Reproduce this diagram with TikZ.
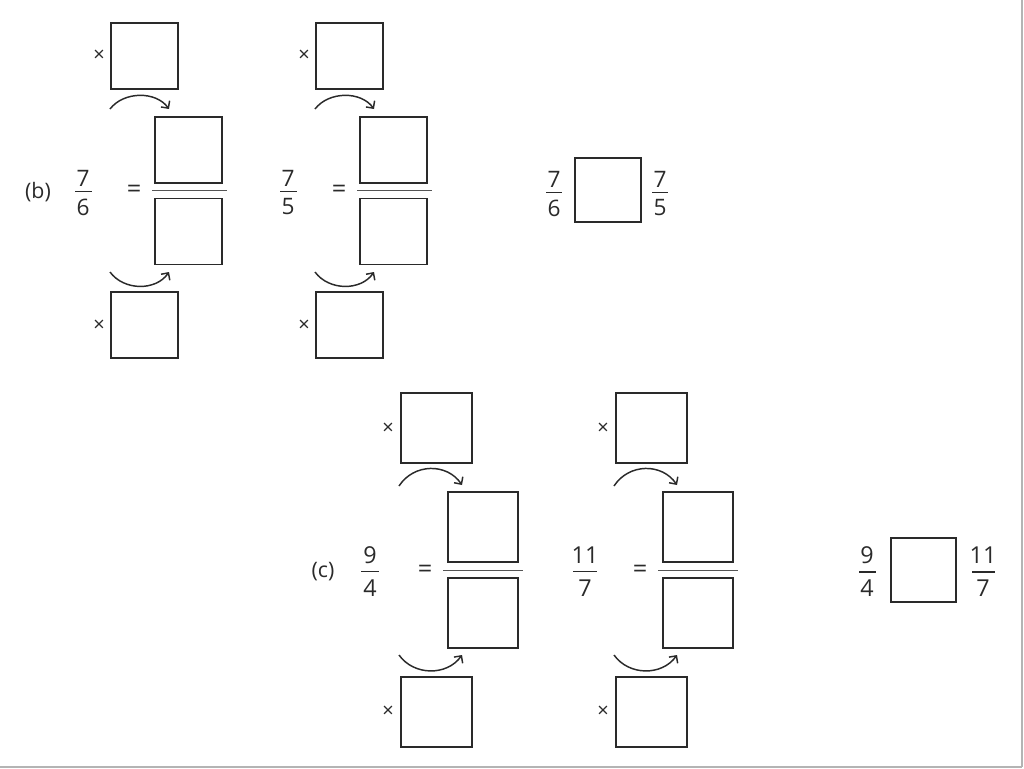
\documentclass[tikz,border=0pt]{standalone}
\usepackage{fontspec}
\setmainfont{Open Sans}
\usetikzlibrary{arrows.meta}
\definecolor{ink}{HTML}{2A2A2A}
\definecolor{edge}{HTML}{B4B4B4}
\begin{document}
\begin{tikzpicture}[x=0.75pt,y=-0.75pt,
  boxb/.style={draw=ink,line width=1.3pt,minimum width=50pt,minimum height=49.5pt,inner sep=0pt},
  boxc/.style={draw=ink,line width=1.3pt,minimum width=53pt,minimum height=52.5pt,inner sep=0pt},
  boxcmp/.style={draw=ink,line width=1.3pt,minimum width=49pt,minimum height=48pt,inner sep=0pt},
  numtxt/.style={inner sep=0pt,text=ink,font=\fontsize{17}{19}\selectfont},
  numtxtc/.style={inner sep=0pt,text=ink,font=\fontsize{17.5}{19}\selectfont},
  lbl/.style={inner sep=0pt,text=ink,font=\fontsize{16}{18}\selectfont},
  eqtxt/.style={inner sep=0pt,text=ink,font=\fontsize{19}{20}\selectfont},
  timestxt/.style={inner sep=0pt,text=ink,font=\fontsize{15}{16}\selectfont},
  fracbar/.style={draw=ink,line width=1pt},
  longbar/.style={draw=ink!80,line width=1.3pt},
  turn/.style={draw=ink,line width=1.1pt,-{Straight Barb[length=4pt,width=8pt]}}]
\useasboundingbox (0,0) rectangle (1024,768);
% scan edges
\draw[edge,line width=1.5pt] (0,766.5) -- (1022,766.5);
\draw[edge,line width=1.2pt] (1022,0) -- (1022,766.5);
% ---- part (b)
\node[lbl] (blabel) at (38,192) {(b)};
\foreach \dx/\p/\n/\d in {0/bA/7/6,205/bB/7/5}{
  \begin{scope}[shift={(\dx,0)}]
    \node[numtxt] (\p n) at (83,178.5) {\n};
    \node[numtxt] (\p d) at (83,207) {\d};
    \draw[fracbar] (75,191.5) -- (92,191.5);
    \node[eqtxt] (\p eq) at (134,191) {=};
    \node[boxb] (\p top) at (144.5,56) {};
    \node[timestxt] (\p tx) at (99,56) {×};
    \node[boxb] (\p num) at (188.5,150) {};
    \draw[longbar] (152,190.5) -- (227,190.5);
    \node[boxb] (\p den) at (188.5,231.5) {};
    \node[boxb] (\p bot) at (144.5,325) {};
    \node[timestxt] (\p bx) at (99,326) {×};
    \coordinate (\p a1) at (110,109);
    \coordinate (\p a2) at (169,109);
    \draw[turn] (\p a1) .. controls (124,91) and (156,91) .. (\p a2);
    \coordinate (\p b1) at (110,272);
    \coordinate (\p b2) at (169,272);
    \draw[turn] (\p b1) .. controls (124,291) and (156,291) .. (\p b2);
  \end{scope}
}
% comparison (b)
\node[numtxt] (bcn1) at (554,179) {7};
\node[numtxt] (bcd1) at (554,208) {6};
\draw[fracbar] (546,192.5) -- (562,192.5);
\node[boxcmp] (bcbox) at (608,190) {};
\node[numtxt] (bcn2) at (660,179) {7};
\node[numtxt] (bcd2) at (660,208) {5};
\draw[fracbar] (652,192.5) -- (668,192.5);
% ---- part (c)
\node[lbl] (clabel) at (323,572) {(c)};
\foreach \dx/\p/\n/\d/\hw in {0/cA/9/4/9,215/cB/11/7/12}{
  \begin{scope}[shift={(\dx,0)}]
    \node[numtxtc] (\p n) at (370,555.5) {\n};
    \node[numtxtc] (\p d) at (370,588) {\d};
    \draw[fracbar] (370-\hw,571.5) -- (370+\hw,571.5);
    \node[eqtxt] (\p eq) at (425,571) {=};
    \node[boxc] (\p top) at (436.5,428) {};
    \node[timestxt] (\p tx) at (388,429) {×};
    \node[boxc] (\p num) at (483,527) {};
    \draw[longbar] (443,570.5) -- (523,570.5);
    \node[boxc] (\p den) at (483,613) {};
    \node[boxc] (\p bot) at (436.5,712) {};
    \node[timestxt] (\p bx) at (388,712) {×};
    \coordinate (\p a1) at (399,486);
    \coordinate (\p a2) at (462,485);
    \draw[turn] (\p a1) .. controls (414,463) and (447,463) .. (\p a2);
    \coordinate (\p b1) at (399,655);
    \coordinate (\p b2) at (462,655);
    \draw[turn] (\p b1) .. controls (414,676) and (447,676) .. (\p b2);
  \end{scope}
}
% comparison (c)
\node[numtxtc] (ccn1) at (867,555) {9};
\node[numtxtc] (ccd1) at (867,588) {4};
\draw[fracbar] (859,572) -- (876,572);
\node[boxcmp] (ccbox) at (923.5,570) {};
\node[numtxtc] (ccn2) at (983,555) {11};
\node[numtxtc] (ccd2) at (983,588) {7};
\draw[fracbar] (972,572) -- (995,572);
\end{tikzpicture}
\end{document}
